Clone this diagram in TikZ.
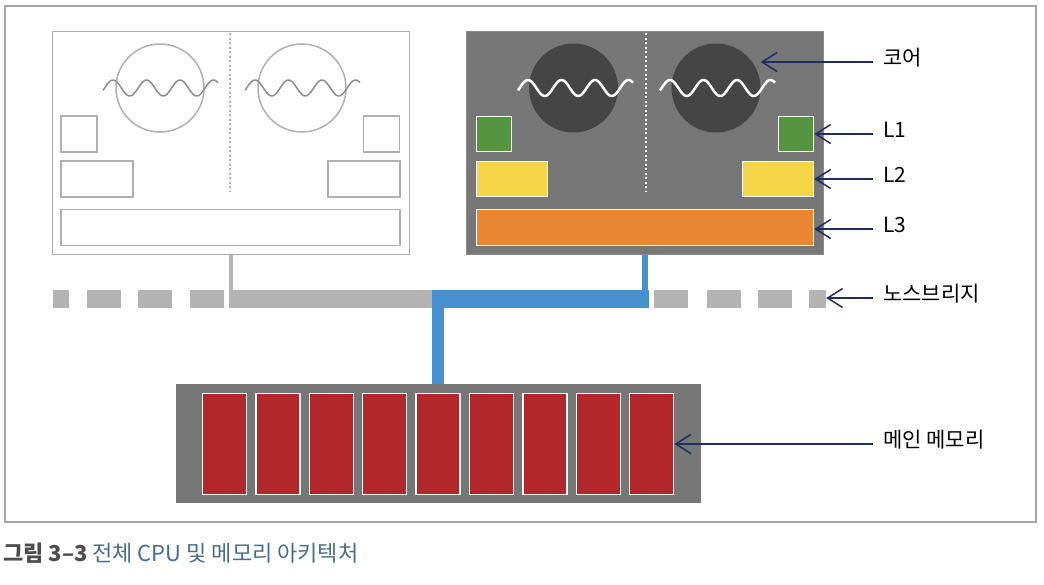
\documentclass[tikz,border=0pt]{standalone}
\usepackage{fontspec}
\setmainfont{Noto Sans CJK KR}
\usetikzlibrary{arrows.meta, positioning}
\definecolor{framegray}{HTML}{A6A6A6}
\definecolor{linegray}{HTML}{B0B0B0}
\definecolor{chipgray}{HTML}{777777}
\definecolor{coregray}{HTML}{454545}
\definecolor{busgray}{HTML}{B3B3B3}
\definecolor{busblue}{HTML}{4690CF}
\definecolor{cachegreen}{HTML}{55953F}
\definecolor{cacheyellow}{HTML}{F6D548}
\definecolor{cacheorange}{HTML}{E98632}
\definecolor{ramred}{HTML}{B3262A}
\definecolor{arrownavy}{HTML}{1F2E5E}
\definecolor{captiongray}{HTML}{4D4D4D}
\definecolor{captionblue}{HTML}{4A6C8A}
\tikzstyle{chip} = [rectangle, inner sep=0, minimum width=357pt, minimum height=223pt]
\tikzstyle{coreA} = [circle, inner sep=0, minimum size=88pt, draw=linegray, line width=1.5pt]
\tikzstyle{coreB} = [circle, inner sep=0, minimum size=89pt, fill=coregray]
\tikzstyle{cacheA} = [rectangle, inner sep=0, draw=linegray, line width=1.5pt, fill=white]
\tikzstyle{cacheB} = [rectangle, inner sep=0, draw=white, line width=1.5pt]
\tikzstyle{busseg} = [rectangle, inner sep=0, minimum height=18pt]
\tikzstyle{ramstick} = [rectangle, inner sep=0, minimum width=44pt, minimum height=101pt, fill=ramred, draw=white, line width=1.5pt]
\tikzstyle{tag} = [anchor=west, inner sep=0, text height=0.75em, text depth=0pt, font=\fontsize{21}{25}\selectfont]
\tikzstyle{pointer} = [draw=arrownavy, line width=1.5pt, -{Straight Barb[length=15pt, width=19pt]}, shorten <=10pt]

\begin{document}
\begin{tikzpicture}[x=1pt, y=-1pt]
	\useasboundingbox (0,0) rectangle (1044,584);
	%--Frame--%
	\node(frame)[rectangle, inner sep=0, minimum width=1031pt, minimum height=516pt, draw=framegray, line width=1.5pt] at (520.5,264) {};

	%--Idle CPU--%
	\node(cpuA)[chip, draw=linegray, line width=1.5pt] at (231,143) {};
	\draw[linegray, line width=1.5pt, dash pattern=on 2pt off 2.5pt] (230,33) -- (230,192);
	\node(coreA1)[coreA] at (160,88) {};
	\node(coreA2)[coreA] at (302,88) {};
	\foreach \c in {160,302}
		\draw[linegray!80!black, line width=1.5pt] plot[domain=\c-57:\c+58, samples=90, smooth] (\x, {88-8*cos(10.746*(\x-\c+47))});
	\node(al1)[cacheA, minimum width=36pt, minimum height=36pt] at (79,134) {};
	\node(ar1)[cacheA, minimum width=36pt, minimum height=36pt] at (381.5,134) {};
	\node(al2)[cacheA, minimum width=72pt, minimum height=36pt] at (97,179) {};
	\node(ar2)[cacheA, minimum width=72pt, minimum height=36pt] at (364,179) {};
	\node(al3)[cacheA, minimum width=339pt, minimum height=36pt] at (230.5,227.5) {};

	%--Active CPU--%
	\node(cpuB)[chip, fill=chipgray, draw=chipgray!85!white, line width=1pt] at (645,143) {};
	\draw[white, line width=1.5pt, dash pattern=on 2pt off 2.5pt] (646,33) -- (646,192);
	\node(coreB1)[coreB] at (573.5,88) {};
	\node(coreB2)[coreB] at (716,88) {};
	\foreach \c in {575,717}
		\draw[white, line width=2.5pt] plot[domain=\c-57:\c+58, samples=90, smooth] (\x, {88-8*cos(10.746*(\x-\c+47))});
	\node(bl1)[cacheB, fill=cachegreen, minimum width=35pt, minimum height=35pt] at (494,134) {};
	\node(br1)[cacheB, fill=cachegreen, minimum width=35pt, minimum height=35pt] at (796,134) {};
	\node(bl2)[cacheB, fill=cacheyellow, minimum width=71pt, minimum height=35pt] at (512,179) {};
	\node(br2)[cacheB, fill=cacheyellow, minimum width=71pt, minimum height=35pt] at (778,179) {};
	\node(bl3)[cacheB, fill=cacheorange, minimum width=337pt, minimum height=36pt] at (645,227.5) {};

	%--Northbridge--%
	\fill[busgray] (53,290) rectangle (69,308);
	\foreach \x in {87,138,190,654,707,758}
		\fill[busgray] (\x,290) rectangle ++(34,18);
	\node(nbend)[busseg, fill=busgray, minimum width=17pt] at (817.5,299) {};
	\node(busA)[busseg, fill=busgray, minimum width=203pt] at (330.5,299) {};
	\node(busB)[busseg, fill=busblue, minimum width=217pt] at (540.5,299) {};

	%--Main Memory--%
	\node(mem)[rectangle, inner sep=0, minimum width=525pt, minimum height=119pt, fill=chipgray] at (438,443.5) {};
	\foreach \i in {0,...,8}
		\node(ram\i)[ramstick] at (224.5+53.4*\i,444) {};

	%--Links--%
	\draw[busgray, line width=3.5pt] (cpuA.south) -- (cpuA.south |- busA.north);
	\draw[busblue, line width=6pt] (cpuB.south) -- (cpuB.south |- busB.north);
	\draw[busblue, line width=12.5pt] (mem.north |- busB.south) -- (mem.north);

	%--Labels--%
	\node(tcore)[tag] at (883,62) {코어};
	\node(tl1)[tag] at (883,134) {L1};
	\node(tl2)[tag] at (883,179) {L2};
	\node(tl3)[tag] at (883,229) {L3};
	\node(tnb)[tag] at (883,298) {노스브리지};
	\node(tmem)[tag] at (883,444) {메인 메모리};
	\draw[pointer] (tcore.west) -- (tcore.west -| coreB2.east);
	\draw[pointer] (tl1.west) -- (tl1.west -| br1.east);
	\draw[pointer] (tl2.west) -- (tl2.west -| br2.east);
	\draw[pointer] (tl3.west) -- (tl3.west -| bl3.east);
	\draw[pointer] (tnb.west) -- (tnb.west -| nbend.east);
	\draw[pointer] (tmem.west) -- (tmem.west -| ram8.east);

	%--Caption--%
	\node(caption)[anchor=west, inner sep=0, text height=0.75em, text depth=0pt, font=\fontsize{22}{26}\selectfont] at (3,558) {\textcolor{captiongray}{\bfseries 그림 3–3} \textcolor{captionblue}{전체 CPU 및 메모리 아키텍처}};
\end{tikzpicture}
\end{document}
